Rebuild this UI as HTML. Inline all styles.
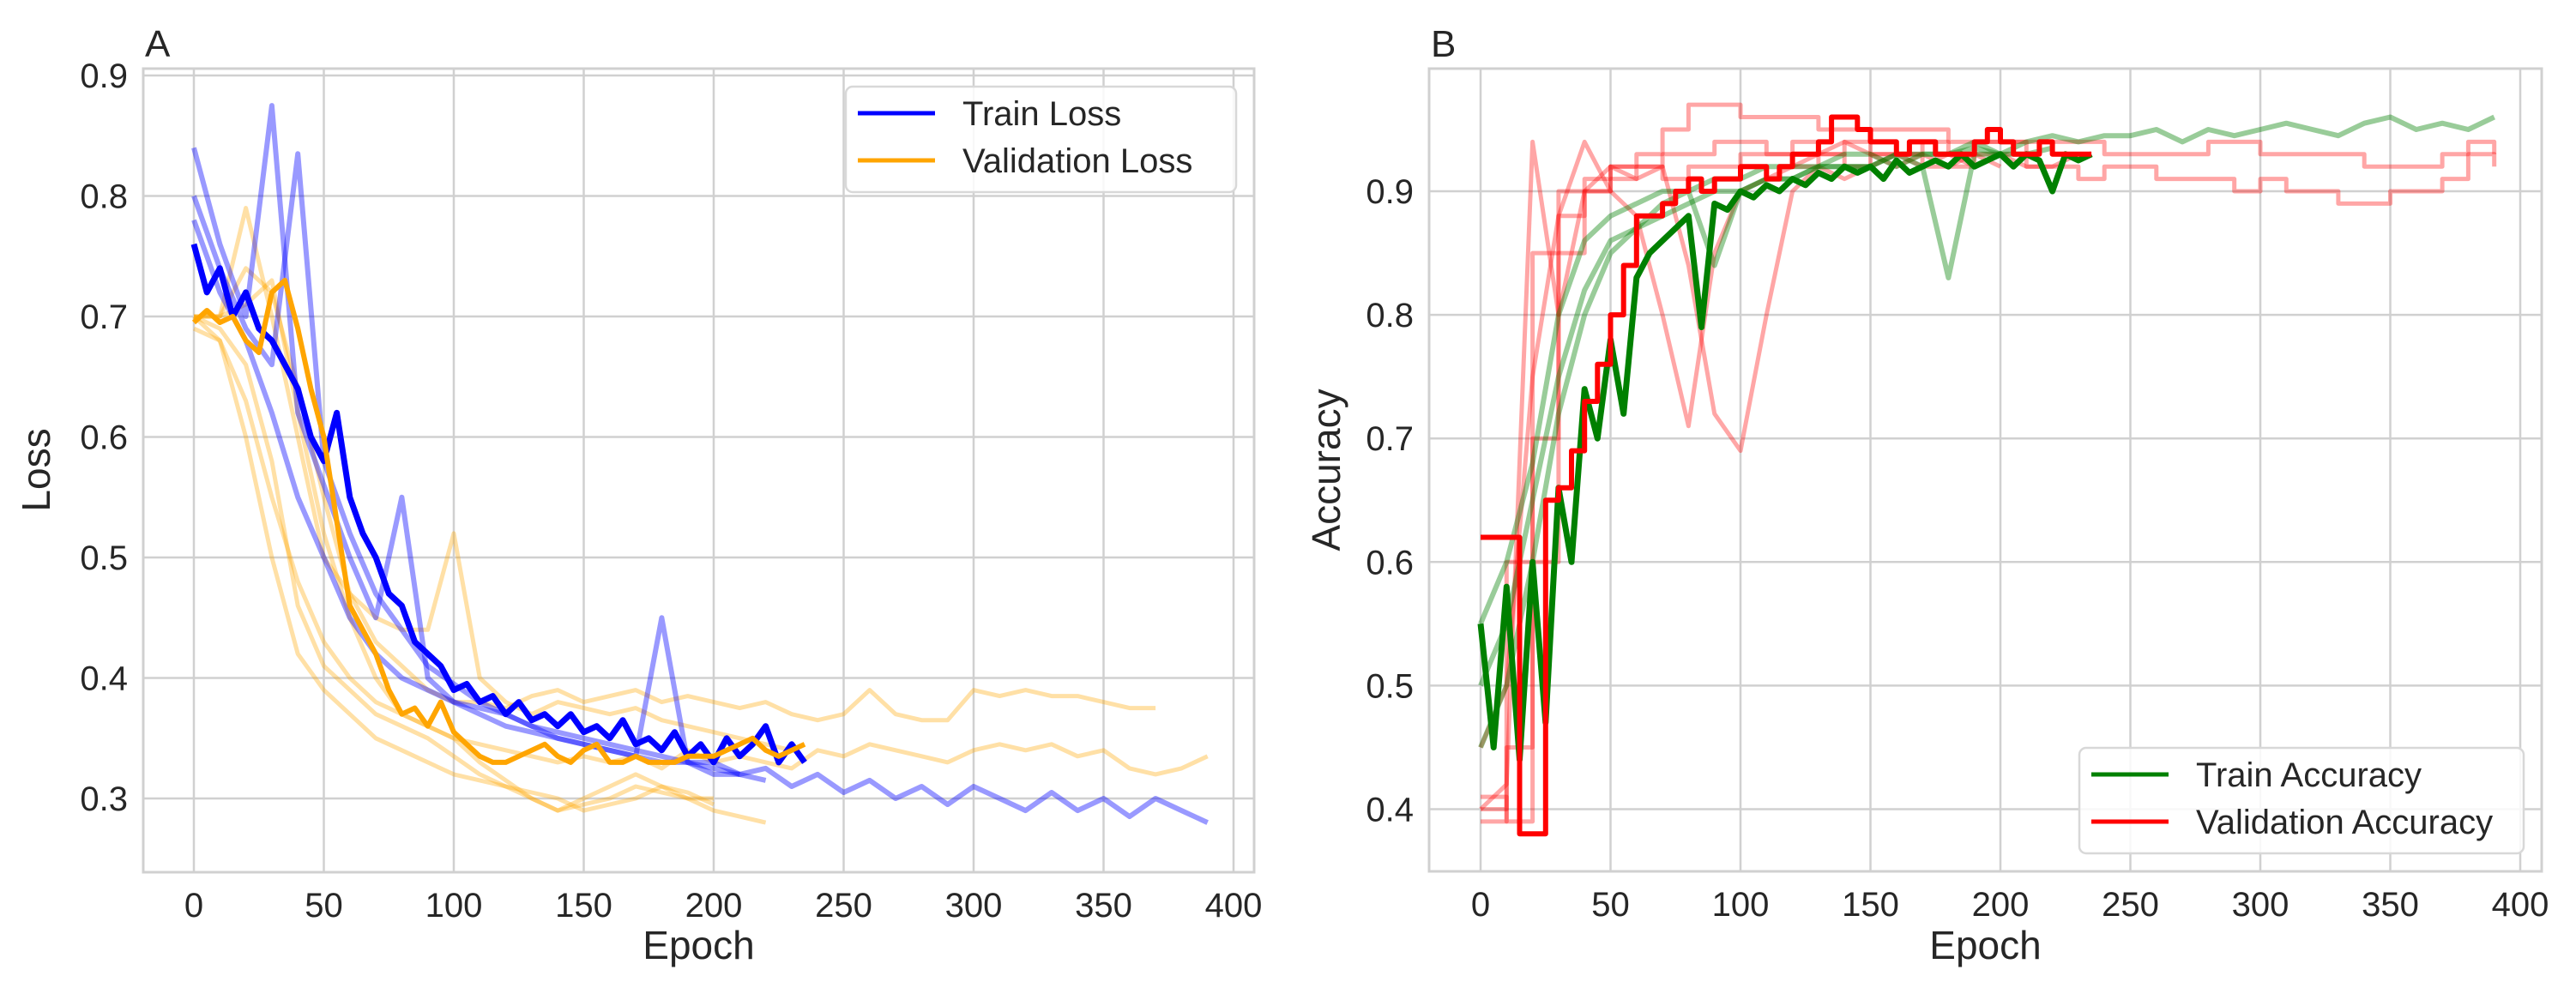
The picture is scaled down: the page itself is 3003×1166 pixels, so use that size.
<!DOCTYPE html>
<html><head><meta charset="utf-8">
<style>
html,body{margin:0;padding:0;background:#fff;}
svg{display:block;font-family:"Liberation Sans",Arial,sans-serif;}
</style></head>
<body>
<svg id="fig" width="3003" height="1166" viewBox="0 0 3003 1166" xmlns="http://www.w3.org/2000/svg">
<rect width="3003" height="1166" fill="#fff"/>
<g id="panelA"></g>
<g id="panelB"></g>
</svg>
<script>
// ---------- Shared ticks ----------
const xTicks = [0,50,100,150,200,250,300,350,400];
const lossTicks = [0.3,0.4,0.5,0.6,0.7,0.8,0.9];
const accTicks = [0.4,0.5,0.6,0.7,0.8,0.9];

// ---------- Panel A data (Loss) ----------
const trainLossMain = [0.76,0.72,0.74,0.70,0.72,0.69,0.68,0.66,0.64,0.60,0.58,0.62,0.55,0.52,0.50,0.47,0.46,0.43,0.42,0.41,0.39,0.395,0.38,0.385,0.37,0.38,0.365,0.37,0.36,0.37,0.355,0.36,0.35,0.365,0.345,0.35,0.34,0.355,0.335,0.345,0.33,0.35,0.335,0.345,0.36,0.33,0.345,0.33];
const trainLossRunA = [0.78,0.72,0.68,0.62,0.55,0.50,0.45,0.42,0.40,0.39,0.38,0.375,0.37,0.36,0.355,0.35,0.345,0.34,0.335,0.33,0.33,0.32,0.325,0.31,0.32,0.305,0.315,0.30,0.31,0.295,0.31,0.30,0.29,0.305,0.29,0.30,0.285,0.30,0.29,0.28];
const trainLossRunB = [0.84,0.76,0.70,0.875,0.62,0.56,0.50,0.45,0.55,0.40,0.38,0.37,0.36,0.355,0.35,0.345,0.34,0.335,0.45,0.33,0.32,0.32,0.315];
const trainLossRunC = [0.80,0.74,0.69,0.66,0.835,0.58,0.52,0.47,0.44,0.41,0.395,0.38,0.37,0.36,0.35,0.345,0.34,0.335,0.33,0.33,0.325,0.32];

const valLossMain = [0.695,0.705,0.695,0.70,0.68,0.67,0.72,0.73,0.69,0.64,0.60,0.53,0.46,0.44,0.42,0.39,0.37,0.375,0.36,0.38,0.355,0.345,0.335,0.33,0.33,0.335,0.34,0.345,0.335,0.33,0.34,0.345,0.33,0.33,0.335,0.33,0.33,0.33,0.335,0.335,0.335,0.34,0.345,0.35,0.34,0.335,0.34,0.345];
const valLossRun1 = [0.70,0.70,0.74,0.72,0.64,0.55,0.47,0.43,0.41,0.39,0.38,0.38,0.375,0.385,0.39,0.38,0.385,0.39,0.38,0.385,0.38,0.375,0.38,0.37,0.365,0.37,0.39,0.37,0.365,0.365,0.39,0.385,0.39,0.385,0.385,0.38,0.375,0.375];
const valLossRun2 = [0.69,0.68,0.63,0.55,0.48,0.43,0.40,0.38,0.37,0.36,0.35,0.345,0.34,0.335,0.33,0.335,0.33,0.335,0.325,0.34,0.33,0.335,0.33,0.325,0.34,0.335,0.345,0.34,0.335,0.33,0.34,0.345,0.34,0.345,0.335,0.34,0.325,0.32,0.325,0.335];
const valLossRun3 = [0.70,0.69,0.66,0.58,0.46,0.41,0.39,0.37,0.36,0.35,0.335,0.32,0.31,0.305,0.30,0.29,0.295,0.30,0.31,0.30,0.29,0.285,0.28];
const valLossRun4 = [0.70,0.70,0.71,0.73,0.62,0.52,0.45,0.40,0.37,0.36,0.35,0.33,0.315,0.30,0.29,0.30,0.31,0.32,0.31,0.305,0.295];
const valLossRun5 = [0.70,0.70,0.79,0.70,0.60,0.50,0.47,0.45,0.44,0.44,0.52,0.40,0.38,0.37,0.38,0.375,0.37,0.375,0.365,0.36,0.355,0.35,0.345,0.34];
const valLossRun6 = [0.70,0.68,0.60,0.50,0.42,0.39,0.37,0.35,0.34,0.33,0.32,0.315,0.31,0.30,0.29,0.295,0.30,0.31,0.305,0.30,0.30];

// ---------- Panel B data (Accuracy) ----------
const trainAccMain = [0.55,0.45,0.58,0.44,0.60,0.47,0.66,0.60,0.74,0.70,0.78,0.72,0.83,0.85,0.86,0.87,0.88,0.79,0.89,0.885,0.90,0.895,0.905,0.90,0.91,0.905,0.915,0.91,0.92,0.915,0.92,0.91,0.925,0.915,0.92,0.925,0.92,0.93,0.92,0.925,0.93,0.92,0.93,0.925,0.90,0.93,0.925,0.93];
const trainAccRunA = [0.50,0.55,0.65,0.75,0.82,0.86,0.87,0.88,0.89,0.90,0.90,0.91,0.91,0.92,0.92,0.92,0.93,0.93,0.93,0.935,0.93,0.94,0.945,0.94,0.945,0.945,0.95,0.94,0.95,0.945,0.95,0.955,0.95,0.945,0.955,0.96,0.95,0.955,0.95,0.96];
const trainAccRunB = [0.45,0.50,0.60,0.72,0.80,0.85,0.87,0.89,0.90,0.84,0.90,0.91,0.91,0.92,0.92,0.92,0.93,0.92,0.83,0.93,0.93,0.93,0.935];
const trainAccRunC = [0.55,0.60,0.68,0.80,0.86,0.88,0.89,0.90,0.90,0.91,0.91,0.92,0.92,0.92,0.93,0.93,0.92,0.93,0.93,0.94,0.93];

const valAccMain = [0.62,0.62,0.62,0.38,0.38,0.65,0.66,0.69,0.73,0.76,0.80,0.84,0.88,0.88,0.89,0.90,0.91,0.90,0.91,0.91,0.92,0.92,0.91,0.92,0.93,0.93,0.94,0.96,0.96,0.95,0.94,0.94,0.93,0.94,0.94,0.93,0.93,0.93,0.94,0.95,0.94,0.93,0.93,0.94,0.93,0.93,0.93,0.93];
const valAccRunA = [0.40,0.60,0.85,0.90,0.90,0.91,0.92,0.91,0.92,0.92,0.93,0.93,0.92,0.93,0.92,0.93,0.93,0.92,0.92,0.93,0.93,0.92,0.92,0.91,0.92,0.92,0.91,0.91,0.91,0.90,0.91,0.90,0.90,0.89,0.89,0.90,0.90,0.91,0.93,0.92];
const valAccRunB = [0.39,0.45,0.70,0.88,0.91,0.92,0.93,0.95,0.97,0.97,0.96,0.96,0.96,0.95,0.95,0.95,0.95,0.95,0.94,0.94,0.94,0.94,0.94,0.94,0.93,0.93,0.93,0.93,0.94,0.94,0.93,0.93,0.93,0.93,0.92,0.92,0.92,0.93,0.94,0.93];
const valAccRunC = [0.40,0.42,0.94,0.80,0.90,0.92,0.91,0.92,0.84,0.72,0.69,0.80,0.90,0.92,0.91,0.92,0.93,0.92,0.93,0.92,0.93,0.92,0.92,0.93];
const valAccRunD = [0.45,0.50,0.75,0.88,0.94,0.90,0.88,0.80,0.71,0.85,0.90,0.91,0.92,0.93,0.94,0.93,0.92,0.93,0.92,0.93,0.92];
const valAccRunE = [0.41,0.39,0.60,0.85,0.90,0.92,0.92,0.93,0.93,0.94,0.94,0.93,0.94,0.93,0.94,0.93,0.93,0.94,0.93,0.94,0.94,0.93];

const NS = "http://www.w3.org/2000/svg";
function mk(tag, attrs, parent){
  const e = document.createElementNS(NS, tag);
  for (const k in attrs) e.setAttribute(k, attrs[k]);
  parent.appendChild(e);
  return e;
}

function buildPanel(gid, cfg){
  const g = document.getElementById(gid);
  const xS = v => cfg.x0 + v * cfg.pxPerEpoch;
  const yS = v => cfg.yRef - (v - cfg.yRefVal) * cfg.pxPerUnit;
  for (const t of cfg.yTicks){
    const l = mk('line',{x1:cfg.left,x2:cfg.right,y1:yS(t),y2:yS(t),stroke:'#d0d0d0','stroke-width':2.5},g);
    
    
    const tx = mk('text',{x:cfg.left-18,y:yS(t)+14,'text-anchor':'end','font-size':40,fill:'#262626'},g);
    tx.textContent = t.toFixed(1);
    
    
  }
  for (const t of xTicks){
    const l = mk('line',{x1:xS(t),x2:xS(t),y1:cfg.top,y2:cfg.bottom,stroke:'#d0d0d0','stroke-width':2.5},g);
    
    
    const tx = mk('text',{x:xS(t),y:cfg.bottom+52,'text-anchor':'middle','font-size':40,fill:'#262626'},g);
    tx.textContent = String(t);
    
    
  }
  for (const s of cfg.series){
    let d = '';
    s.data.forEach((v,i)=>{
      const ep = i * s.step;
      const X = xS(ep), Y = yS(v);
      if (i===0) d += 'M'+X.toFixed(1)+' '+Y.toFixed(1);
      else if (s.stepped) d += ' H'+X.toFixed(1)+' V'+Y.toFixed(1);
      else d += ' L'+X.toFixed(1)+' '+Y.toFixed(1);
    });
    const p = mk('path',{d:d,fill:'none',stroke:s.color,'stroke-width':s.w,'stroke-opacity':s.op,'stroke-linejoin':'round'},g);
    
    
  }
  const fr = mk('rect',{x:cfg.left,y:cfg.top,width:cfg.right-cfg.left,height:cfg.bottom-cfg.top,fill:'none',stroke:'#d0d0d0','stroke-width':3},g);
  
  
  const pl = mk('text',{x:cfg.left+2,y:66,'font-size':44,fill:'#262626'},g);
  pl.textContent = cfg.letter;
  
  
  const xl = mk('text',{x:(cfg.left+cfg.right)/2,y:1118,'text-anchor':'middle','font-size':46,fill:'#262626'},g);
  xl.textContent = 'Epoch';
  
  
  const yl = mk('text',{x:0,y:0,'text-anchor':'middle','font-size':46,fill:'#262626',transform:'translate('+cfg.ylabX+',548) rotate(-90)'},g);
  yl.textContent = cfg.ylabel;
  
  
  const L = cfg.legend;
  const lg = mk('g',{},g);
  
  
  mk('rect',{x:L.x,y:L.y,width:L.w,height:123,rx:8,fill:'#fff','fill-opacity':0.85,stroke:'#d8d8d8','stroke-width':2.5},lg);
  L.items.forEach((it,i)=>{
    const yy = L.y + 31 + i*55;
    const ln = mk('line',{x1:L.x+14,x2:L.x+104,y1:yy,y2:yy,stroke:it.c,'stroke-width':5},lg);
    
    
    const t = mk('text',{x:L.x+136,y:yy+14,'font-size':40,fill:'#262626'},lg);
    t.textContent = it.t;
    
    
  });
}

buildPanel('panelA',{
  letter:'A', ylabel:'Loss', ylabX:58,
  left:167, right:1462, top:80, bottom:1017,
  x0:226, pxPerEpoch:3.03, yRef:88, yRefVal:0.9, pxPerUnit:1405,
  yTicks:lossTicks,
  legend:{x:986,y:101,w:455,items:[{c:'#0000ff',t:'Train Loss'},{c:'#ffa500',t:'Validation Loss'}]},
  series:[
    {name:'val-loss-fold-1',data:valLossRun1,step:10,color:'#ffa500',w:5,op:0.35},
    {name:'val-loss-fold-2',data:valLossRun2,step:10,color:'#ffa500',w:5,op:0.35},
    {name:'val-loss-fold-3',data:valLossRun3,step:10,color:'#ffa500',w:5,op:0.35},
    {name:'val-loss-fold-4',data:valLossRun4,step:10,color:'#ffa500',w:5,op:0.35},
    {name:'val-loss-fold-5',data:valLossRun5,step:10,color:'#ffa500',w:5,op:0.35},
    {name:'val-loss-fold-6',data:valLossRun6,step:10,color:'#ffa500',w:5,op:0.35},
    {name:'train-loss-fold-a',data:trainLossRunA,step:10,color:'#0000ff',w:6,op:0.4},
    {name:'train-loss-fold-b',data:trainLossRunB,step:10,color:'#0000ff',w:6,op:0.4},
    {name:'train-loss-fold-c',data:trainLossRunC,step:10,color:'#0000ff',w:6,op:0.4},
    {name:'train-loss-main',data:trainLossMain,step:5,color:'#0000ff',w:7,op:1},
    {name:'val-loss-main',data:valLossMain,step:5,color:'#ffa500',w:6,op:1}
  ]
});

buildPanel('panelB',{
  letter:'B', ylabel:'Accuracy', ylabX:1562,
  left:1666, right:2963, top:80, bottom:1016,
  x0:1726, pxPerEpoch:3.03, yRef:223, yRefVal:0.9, pxPerUnit:1441,
  yTicks:accTicks,
  legend:{x:2424,y:872,w:518,items:[{c:'#008000',t:'Train Accuracy'},{c:'#ff0000',t:'Validation Accuracy'}]},
  series:[
    {name:'val-acc-fold-a',data:valAccRunA,step:10,color:'#ff0000',w:5,op:0.35,stepped:true},
    {name:'val-acc-fold-b',data:valAccRunB,step:10,color:'#ff0000',w:5,op:0.35,stepped:true},
    {name:'val-acc-fold-c',data:valAccRunC,step:10,color:'#ff0000',w:5,op:0.35},
    {name:'val-acc-fold-d',data:valAccRunD,step:10,color:'#ff0000',w:5,op:0.35},
    {name:'val-acc-fold-e',data:valAccRunE,step:10,color:'#ff0000',w:5,op:0.35,stepped:true},
    {name:'train-acc-fold-a',data:trainAccRunA,step:10,color:'#008000',w:6,op:0.4},
    {name:'train-acc-fold-b',data:trainAccRunB,step:10,color:'#008000',w:6,op:0.4},
    {name:'train-acc-fold-c',data:trainAccRunC,step:10,color:'#008000',w:6,op:0.4},
    {name:'train-acc-main',data:trainAccMain,step:5,color:'#008000',w:7,op:1},
    {name:'val-acc-main',data:valAccMain,step:5,color:'#ff0000',w:6,op:1,stepped:true}
  ]
});
</script>
</body></html>
